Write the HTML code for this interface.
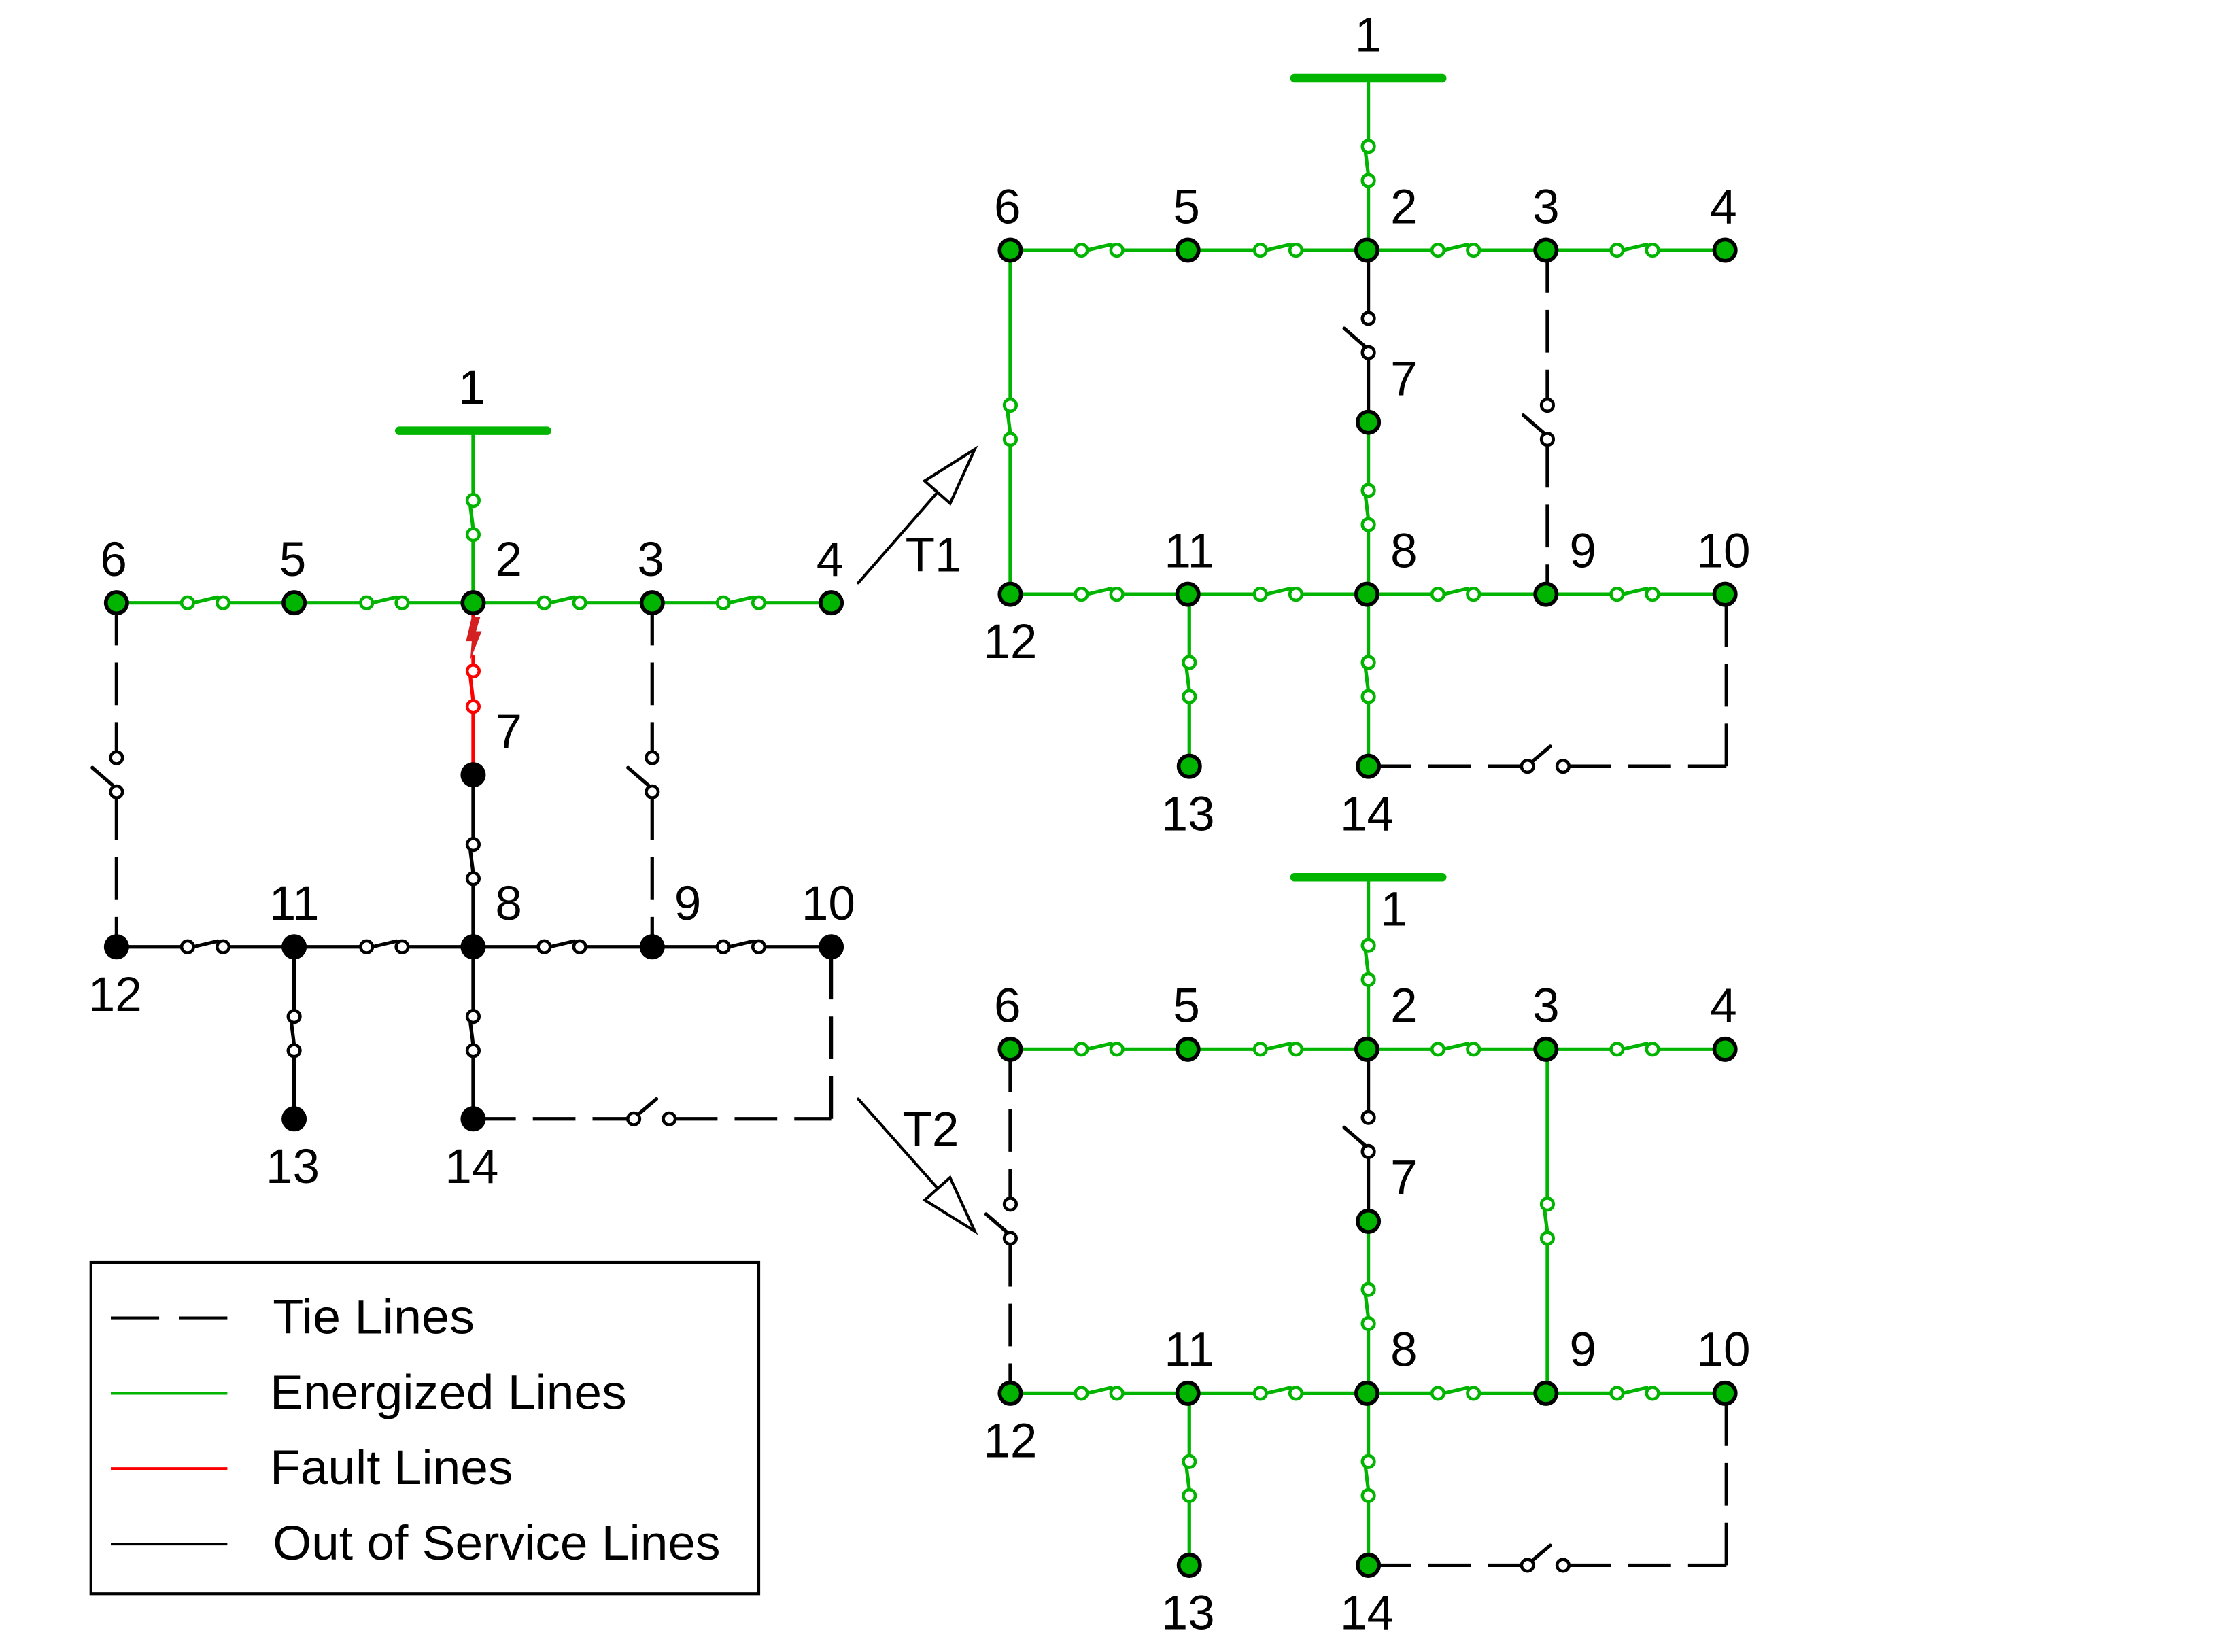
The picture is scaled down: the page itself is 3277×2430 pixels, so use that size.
<!DOCTYPE html>
<html><head><meta charset="utf-8"><style>html,body{margin:0;padding:0;background:#fff}svg{display:block}text{font-family:"Liberation Sans",Arial,sans-serif;font-size:34px;fill:#000;text-anchor:middle}</style></head>
<body>
<svg id="s" width="3277" height="2430" viewBox="0 0 1568 1162" preserveAspectRatio="none" xmlns="http://www.w3.org/2000/svg">
<g id="g"></g>
<g>
<text x="332" y="284">1</text>
<text x="80" y="405">6</text><text x="206" y="405">5</text><text x="358" y="405">2</text><text x="458" y="405">3</text><text x="584" y="405">4</text>
<text x="358" y="526">7</text>
<text x="207" y="647">11</text><text x="358" y="647">8</text><text x="484" y="647">9</text><text x="583" y="647">10</text>
<text x="81" y="711">12</text><text x="206" y="832">13</text><text x="332" y="832">14</text>
<text x="963" y="36">1</text>
<text x="709" y="157">6</text><text x="835" y="157">5</text><text x="988" y="157">2</text><text x="1088" y="157">3</text><text x="1213" y="157">4</text>
<text x="988" y="278">7</text>
<text x="837" y="399">11</text><text x="988" y="399">8</text><text x="1114" y="399">9</text><text x="1213" y="399">10</text>
<text x="711" y="463">12</text><text x="836" y="584">13</text><text x="962" y="584">14</text>
<text x="981" y="651">1</text>
<text x="709" y="719">6</text><text x="835" y="719">5</text><text x="988" y="719">2</text><text x="1088" y="719">3</text><text x="1213" y="719">4</text>
<text x="988" y="840">7</text>
<text x="837" y="961">11</text><text x="988" y="961">8</text><text x="1114" y="961">9</text><text x="1213" y="961">10</text>
<text x="711" y="1025">12</text><text x="836" y="1146">13</text><text x="962" y="1146">14</text>
<text x="657" y="402">T1</text>
<text x="655" y="806">T2</text>
<rect x="64" y="888" width="470" height="233" fill="none" stroke="#000" stroke-width="2"/>
<line x1="78" y1="927" x2="160" y2="927" stroke="#000" stroke-width="2" stroke-dasharray="34,14"/>
<line x1="78" y1="980" x2="160" y2="980" stroke="#00b400" stroke-width="2"/>
<line x1="78" y1="1033" x2="160" y2="1033" stroke="#ff0000" stroke-width="2"/>
<line x1="78" y1="1086" x2="160" y2="1086" stroke="#000" stroke-width="2"/>
<text x="192" y="938" style="text-anchor:start" textLength="142" lengthAdjust="spacingAndGlyphs">Tie Lines</text>
<text x="190" y="991" style="text-anchor:start" textLength="251" lengthAdjust="spacingAndGlyphs">Energized Lines</text>
<text x="190" y="1044" style="text-anchor:start" textLength="171" lengthAdjust="spacingAndGlyphs">Fault Lines</text>
<text x="192" y="1097" style="text-anchor:start" textLength="315" lengthAdjust="spacingAndGlyphs">Out of Service Lines</text>
</g>
</svg>
<script>
var G=document.getElementById('g'),NS='http://www.w3.org/2000/svg';
var GR='#00b400',BK='#000',RD='#ff0000';
function el(t,a){var e=document.createElementNS(NS,t);for(var k in a)e.setAttribute(k,a[k]);G.appendChild(e);return e;}
function L(x1,y1,x2,y2,c,d,w){var a={x1:x1,y1:y1,x2:x2,y2:y2,stroke:c,'stroke-width':w||2.5,'stroke-linecap':'round'};if(d){a['stroke-dasharray']='30,12';a['stroke-linecap']='butt';}el('line',a);}
function C(x,y,c){el('circle',{cx:x,cy:y,r:4.2,fill:'#fff',stroke:c,'stroke-width':2.2});}
function N(x,y,c){el('circle',{cx:x,cy:y,r:7.5,fill:c,stroke:'#000','stroke-width':2.7});}
function H(x1,x2,y,sx,c){L(x1,y,sx-4,y,c);L(sx+29,y,x2,y,c);L(sx+4,y,sx+21,y-4,c);C(sx,y,c);C(sx+25,y,c);}
function Vc(x,y1,y2,sy,c){L(x,y1,x,sy-4,c);L(x,sy+28,x,y2,c);L(x-2,sy+4,x,sy+20,c);C(x,sy,c);C(x,sy+24,c);}
function Vo(x,y1,y2,sy,c,dash){L(x,y1,x,sy-4,c,dash);L(x,sy+28,x,y2,c,dash);L(x-2,sy+20,x-17,sy+7,c);C(x,sy,c);C(x,sy+24,c);}
function Tie(x1,y,x2,y2,sx){L(x1,y,sx-4,y,BK,1);L(sx+29,y,x2,y,BK,1);L(x2,y,x2,y2,BK,1);L(sx+3,y-3,sx+16,y-14,BK);C(sx,y,BK);C(sx+25,y,BK);}
function bus(cx,y){L(cx-52,y,cx+52,y,GR,0,6);}
var X=[82,207,333,459,585];
(function(){var r1=424,r3=666;
bus(333,303);Vc(333,303,424,352,GR);
H(82,207,r1,132,GR);H(207,333,r1,258,GR);H(333,459,r1,383,GR);H(459,585,r1,509,GR);
L(333,424,333,436,RD);L(333,462,333,468,RD);L(333,501,333,545,RD);L(331,476,333,493,RD);C(333,472,RD);C(333,497,RD);
el('path',{d:'M332,434 L338,434 L335,444 L339,444 L331,464 L332,451 L328,451 Z',fill:'#d42020'});
Vc(333,545,666,594,BK);
Vo(82,424,666,533,BK,1);Vo(459,424,666,533,BK,1);
H(82,207,r3,132,BK);H(207,333,r3,258,BK);H(333,459,r3,383,BK);H(459,585,r3,509,BK);
Vc(207,666,787,715,BK);Vc(333,666,787,715,BK);
Tie(333,787,585,666,446);
N(82,424,GR);N(207,424,GR);N(333,424,GR);N(459,424,GR);N(585,424,GR);
N(333,545,BK);[82,207,333,459,585].forEach(function(x){N(x,666,BK)});N(207,787,BK);N(333,787,BK);
})();
function right(oy,t2){var dx=629,r1=176+oy,r2=297+oy,r3=418+oy,r4=539+oy;
var x=X.map(function(v){return v+dx});
bus(963,55+oy);Vc(963,55+oy,r1,103+oy,GR);
H(x[0],x[1],r1,x[0]+50,GR);H(x[1],x[2],r1,x[1]+51,GR);H(x[2],x[3],r1,x[2]+50,GR);H(x[3],x[4],r1,x[3]+50,GR);
Vo(963,r1,r2,224+oy,BK,0);
Vc(963,r2,r3,345+oy,GR);
if(!t2){Vc(711,r1,r3,285+oy,GR);Vo(1089,r1,r3,285+oy,BK,1);}
else{Vo(711,r1,r3,285+oy,BK,1);Vc(1089,r1,r3,285+oy,GR);}
H(x[0],x[1],r3,x[0]+50,GR);H(x[1],x[2],r3,x[1]+51,GR);H(x[2],x[3],r3,x[2]+50,GR);H(x[3],x[4],r3,x[3]+50,GR);
Vc(837,r3,r4,466+oy,GR);Vc(963,r3,r4,466+oy,GR);
Tie(963,r4,1215,r3,1075);
x.forEach(function(v){N(v,r1,GR);N(v,r3,GR)});N(963,r2,GR);N(837,r4,GR);N(963,r4,GR);
}
right(0,false);right(562,true);
L(604,410,660,346,BK,0,2);el('polygon',{points:'686,316 668.7,354.1 650.7,338.3',fill:'#fff',stroke:'#000','stroke-width':2});
L(604,773,660,836,BK,0,2);el('polygon',{points:'686,866 650.8,844.1 668.6,828.3',fill:'#fff',stroke:'#000','stroke-width':2});
</script>
</body></html>
